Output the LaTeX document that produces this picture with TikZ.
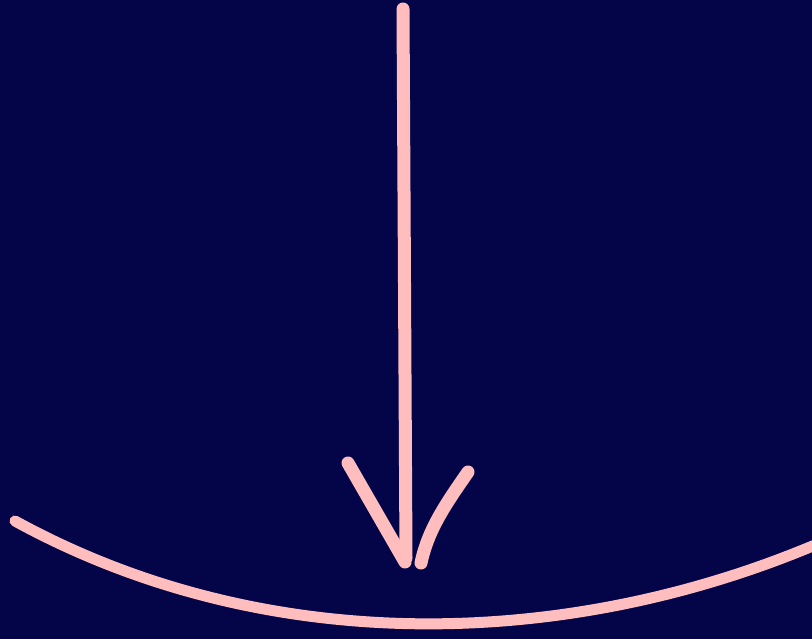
\documentclass[tikz,border=0pt]{standalone}
\usetikzlibrary{calc}
\definecolor{NightBlue}{RGB}{3,5,72}
\definecolor{SoftPink}{RGB}{255,189,189}
\tikzset{
  stroke/.style={draw=SoftPink,line width=13pt,line cap=round,line join=round},
  thinstroke/.style={draw=SoftPink,line width=11pt,line cap=round}
}
\begin{document}
\begin{tikzpicture}[x=1pt,y=-1pt]
  \fill[NightBlue] (0,0) rectangle (812,639);
  \useasboundingbox (0,0) rectangle (812,639);
  % shaft and hand drawn head
  \coordinate (top) at (403,9);
  \coordinate (tip) at (406,558);
  \coordinate (headL) at (348,463);
  \coordinate (headLend) at (405,562);
  \coordinate (headR) at (468,472);
  \coordinate (headRend) at (421,563);
  \draw[stroke] (top) -- (tip);
  \draw[stroke] (headL) -- (headLend);
  \draw[stroke] (headR) .. controls (445,505) and (428,530) .. (headRend);
  % the curved ground line
  \coordinate (arcL) at (15,521);
  \coordinate (arcR) at (815,545);
  \draw[thinstroke] (arcL) .. controls (265,658) and (565,650) .. (arcR);
\end{tikzpicture}
\end{document}
